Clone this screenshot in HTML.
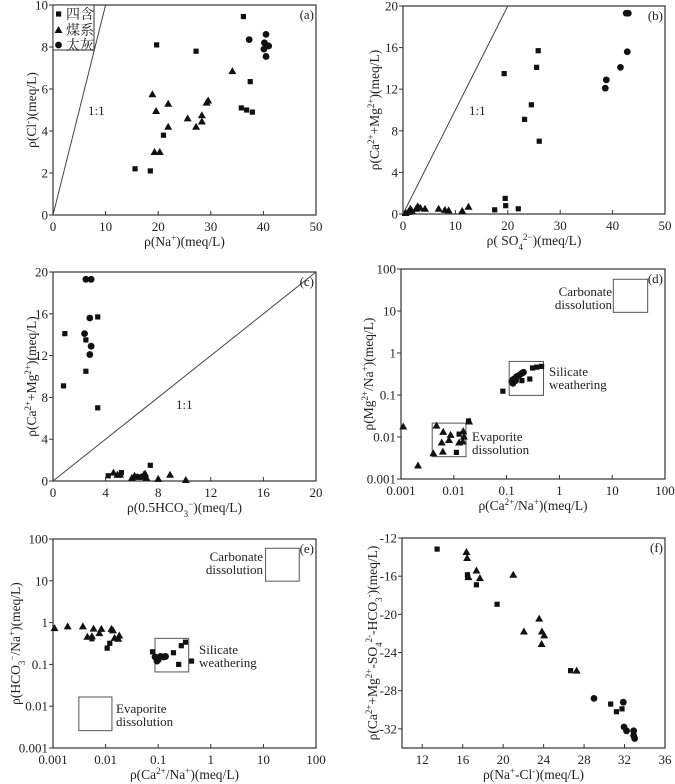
<!DOCTYPE html>
<html><head><meta charset="utf-8">
<style>
html,body{margin:0;padding:0;background:#fff;}
svg{display:block;font-family:"Liberation Serif","Noto Serif CJK SC",serif;}
</style></head>
<body>
<svg id="chart" width="675" height="784" viewBox="0 0 675 784" xmlns="http://www.w3.org/2000/svg"></svg>
<script>
// ---------- Panel (a): Cl vs Na ----------
const aSqX=[15.6,18.5,19.7,21,27.2,36.2,37.5,35.8,36.8,37.9];
const aSqY=[2.2,2.1,8.1,3.8,7.8,9.45,6.35,5.1,5.0,4.9];
const aTrX=[18.9,19.6,21.9,19.3,20.3,21.9,25.6,27.2,28.3,28.3,29.2,29.5,34.1];
const aTrY=[5.75,4.95,5.3,3.0,3.0,4.2,4.6,4.2,4.75,4.45,5.35,5.45,6.85];
const aCiX=[37.3,40.5,40.2,40.1,41,40.5];
const aCiY=[8.35,8.6,8.2,7.9,8.05,7.55];
const aXTicks=[0,10,20,30,40,50];
const aYTicks=[0,2,4,6,8,10];
// ---------- Panel (b): Ca+Mg vs SO4 ----------
const bSqX=[19.3,25.5,25.8,24.5,23.2,26,19.5,19.6,22,17.5];
const bSqY=[13.5,14.1,15.7,10.5,9.1,7.0,1.5,0.8,0.5,0.4];
const bTrX=[0.5,1,1.4,1.7,2.5,2.8,3.3,4.2,6.8,8,8.7,11.3,12.5];
const bTrY=[0.1,0.2,0.5,0.3,0.5,0.75,0.6,0.5,0.5,0.4,0.35,0.3,0.7];
const bCiX=[42.6,43,42.8,41.5,38.8,38.6];
const bCiY=[19.3,19.3,15.6,14.1,12.9,12.1];
const bXTicks=[0,10,20,30,40,50];
const bYTicks=[0,4,8,12,16,20];
// ---------- Panel (c): Ca+Mg vs 0.5HCO3 ----------
const cSqX=[0.9,0.8,2.5,2.5,3.4,3.4,4.2,5.2,7.4,6.5];
const cSqY=[14.1,9.1,13.5,10.5,15.7,7.0,0.5,0.8,1.5,0.4];
const cTrX=[4.6,4.9,5.1,6.0,6.2,6.4,6.7,6.9,7.0,7.1,8.0,8.9,10.1];
const cTrY=[0.8,0.6,0.6,0.3,0.5,0.4,0.4,0.6,0.7,0.3,0.2,0.6,0.1];
const cCiX=[2.5,2.9,2.8,2.4,2.9,2.8];
const cCiY=[19.3,19.3,15.6,14.1,12.9,12.1];
const cXTicks=[0,4,8,12,16,20];
const cYTicks=[0,4,8,12,16,20];
// ---------- Panel (d): Mg/Na vs Ca/Na (log) ----------
const dSqX=[0.0126,0.0112,0.019,0.085,0.13,0.195,0.275,0.31,0.37,0.46];
const dSqY=[0.0117,0.0043,0.024,0.123,0.23,0.22,0.24,0.44,0.46,0.48];
const dTrX=[0.0011,0.0021,0.0041,0.0047,0.0063,0.0062,0.0059,0.0081,0.0087,0.0126,0.0151,0.0148,0.0155,0.0195];
const dTrY=[0.0178,0.0021,0.0041,0.0186,0.0132,0.0045,0.0074,0.0085,0.0112,0.0074,0.0138,0.0078,0.0102,0.0234];
const dCiX=[0.126,0.138,0.155,0.178,0.195,0.209,0.132,0.148];
const dCiY=[0.209,0.24,0.275,0.302,0.331,0.347,0.19,0.22];
const dTicks=[0.001,0.01,0.1,1,10,100];
// ---------- Panel (e): HCO3/Na vs Ca/Na (log) ----------
const eSqX=[0.0055,0.0107,0.012,0.078,0.275,0.33,0.245,0.43,0.195];
const eSqY=[0.41,0.245,0.32,0.2,0.28,0.34,0.1,0.12,0.19];
const eTrX=[0.00107,0.0019,0.0037,0.0045,0.0059,0.0055,0.0076,0.0083,0.0129,0.0138,0.0148,0.0182,0.0174];
const eTrY=[0.74,0.81,0.81,0.46,0.72,0.47,0.56,0.71,0.71,0.65,0.43,0.49,0.41];
const eCiX=[0.087,0.1,0.11,0.126,0.138,0.095];
const eCiY=[0.151,0.129,0.155,0.151,0.155,0.12];
const eTicks=[0.001,0.01,0.1,1,10,100];
// ---------- Panel (f): Ca+Mg-SO4-HCO3 vs Na-Cl ----------
const fSqX=[13.47,16.47,16.5,17.36,19.4,26.67,30.63,31.2,31.75];
const fSqY=[-13.16,-15.85,-16.1,-16.9,-18.94,-25.9,-29.4,-30.2,-29.9];
const fTrX=[16.37,16.44,16.57,17.36,17.7,21,22.05,23.56,23.83,24.06,23.8,27.26];
const fTrY=[-13.47,-14.1,-16.1,-15.4,-16.2,-15.85,-21.8,-20.45,-21.8,-22.2,-23.1,-25.9];
const fCiX=[28.98,31.88,31.95,32.2,32.9,32.9,33.0];
const fCiY=[-28.8,-29.2,-31.8,-32.2,-32.2,-32.7,-33.0];
const fXTicks=[12,16,20,24,28,32,36];
const fYTicks=[-32,-28,-24,-20,-16,-12];

const NS="http://www.w3.org/2000/svg";
const svg=document.getElementById('chart');
function el(tag,attrs,parent){const e=document.createElementNS(NS,tag);for(const k in attrs)e.setAttribute(k,attrs[k]);(parent||svg).appendChild(e);return e;}

function makePanel(p){
  const g=el('g',{});
  
  
  const lin=(v,a,b,p0,p1)=>p0+(v-a)/(b-a)*(p1-p0);
  const sx=p.log?(v=>lin(Math.log10(v),Math.log10(p.xmin),Math.log10(p.xmax),p.L,p.R)):(v=>lin(v,p.xmin,p.xmax,p.L,p.R));
  const sy=p.log?(v=>lin(Math.log10(v),Math.log10(p.ymin),Math.log10(p.ymax),p.B,p.T)):(v=>lin(v,p.ymin,p.ymax,p.B,p.T));
  const frame=el('rect',{x:p.L,y:p.T,width:p.R-p.L,height:p.B-p.T,fill:'none',stroke:'#333','stroke-width':1.2},g);
  
  
  p.xt.forEach(v=>{const x=sx(v);
    el('line',{x1:x,y1:p.B,x2:x,y2:p.B-4,stroke:'#333'},g);
    const t=el('text',{x:x,y:p.B+16,'text-anchor':'middle','font-size':13,fill:'#222'},g);t.textContent=v;
    
    });
  p.yt.forEach(v=>{const y=sy(v);
    el('line',{x1:p.L,y1:y,x2:p.L-4,y2:y,stroke:'#333'},g);
    const t=el('text',{x:p.L-5,y:y+4.5,'text-anchor':'end','font-size':13,fill:'#222'},g);t.textContent=v;
    
    });
  if(p.diag){const x2=sx(p.diag),y2=sy(p.diag);
    const ln=el('line',{x1:sx(0),y1:sy(0),x2:x2,y2:y2,stroke:'#444','stroke-width':1},g);
    
    
    const t=el('text',{x:p.diagLab[0],y:p.diagLab[1],'font-size':13,fill:'#222'},g);t.textContent='1:1';
    
    }
  (p.boxes||[]).forEach(b=>{
    const r=el('rect',{x:sx(b[0]),y:sy(b[3]),width:sx(b[1])-sx(b[0]),height:sy(b[2])-sy(b[3]),fill:'none',stroke:'#555','stroke-width':1},g);
    
    
    const t1=el('text',{x:b[5],y:b[6],'text-anchor':b[7],'font-size':13,fill:'#222'},g);t1.textContent=b[8];
    
    
    const t2=el('text',{x:b[5],y:b[6]+13,'text-anchor':b[7],'font-size':13,fill:'#222'},g);t2.textContent=b[9];
    
    
  });
  p.sq[0].forEach((v,i)=>{const m=el('rect',{x:sx(v)-2.6,y:sy(p.sq[1][i])-2.6,width:5.2,height:5.2,fill:'#111'},g);
    
    });
  p.tr[0].forEach((v,i)=>{const x=sx(v),y=sy(p.tr[1][i]);
    const m=el('polygon',{points:`${x},${y-4} ${x-4},${y+3} ${x+4},${y+3}`,fill:'#111'},g);
    
    });
  p.ci[0].forEach((v,i)=>{const m=el('circle',{cx:sx(v),cy:sy(p.ci[1][i]),r:3.4,fill:'#111'},g);
    
    });
  const pl=el('text',{x:p.R-2,y:p.T+14,'text-anchor':'end','font-size':13,fill:'#222'},g);pl.textContent='('+p.id+')';
  
  
  const xl=el('text',{x:(p.L+p.R)/2,y:p.B+31,'text-anchor':'middle','font-size':13.5,fill:'#222'},g);xl.innerHTML=p.xlab;
  
  
  const cy=(p.T+p.B)/2;
  const yl=el('text',{x:p.ylx,y:cy,'text-anchor':'middle','font-size':13.5,fill:'#222',transform:`rotate(-90 ${p.ylx} ${cy})`},g);yl.innerHTML=p.ylab;
  
  
  return g;
}
const sup=s=>`<tspan baseline-shift="super" font-size="9">${s}</tspan>`;
const sub=s=>`<tspan baseline-shift="sub" font-size="9">${s}</tspan>`;
const caMg=`ρ(Ca${sup('2+')}+Mg${sup('2+')})(meq/L)`;

makePanel({id:'a',L:53,R:316,T:5,B:215,xmin:0,xmax:50,ymin:0,ymax:10,xt:aXTicks,yt:aYTicks,
  sq:[aSqX,aSqY],tr:[aTrX,aTrY],ci:[aCiX,aCiY],diag:10,diagLab:[88,115],
  xlab:`ρ(Na${sup('+')})(meq/L)`,ylab:`ρ(Cl${sup('-')})(meq/L)`,ylx:36});
makePanel({id:'b',L:403,R:665,T:6,B:214,xmin:0,xmax:50,ymin:0,ymax:20,xt:bXTicks,yt:bYTicks,
  sq:[bSqX,bSqY],tr:[bTrX,bTrY],ci:[bCiX,bCiY],diag:20,diagLab:[469,115],
  xlab:`ρ( SO${sub('4')}${sup('2−')})(meq/L)`,ylab:caMg,ylx:379});
makePanel({id:'c',L:53,R:316,T:272,B:481,xmin:0,xmax:20,ymin:0,ymax:20,xt:cXTicks,yt:cYTicks,
  sq:[cSqX,cSqY],tr:[cTrX,cTrY],ci:[cCiX,cCiY],diag:20,diagLab:[176,409],
  xlab:`ρ(0.5HCO${sub('3')}${sup('−')})(meq/L)`,ylab:caMg,ylx:36});
makePanel({id:'d',log:true,L:401,R:665,T:269,B:479,xmin:0.001,xmax:100,ymin:0.001,ymax:100,xt:dTicks,yt:dTicks,
  sq:[dSqX,dSqY],tr:[dTrX,dTrY],ci:[dCiX,dCiY],
  boxes:[[10.5,47,9.3,57,'carbonate-dissolution',612,296,'end','Carbonate','dissolution'],
         [0.112,0.5,0.098,0.63,'silicate-weathering',549,376,'start','Silicate','weathering'],
         [0.0039,0.017,0.0034,0.0214,'evaporite-dissolution',472,441,'start','Evaporite','dissolution']],
  xlab:`ρ(Ca${sup('2+')}/Na${sup('+')})(meq/L)`,ylab:`ρ(Mg${sup('2+')}/Na${sup('+')})(meq/L)`,ylx:373});
makePanel({id:'e',log:true,L:53,R:316,T:539,B:748,xmin:0.001,xmax:100,ymin:0.001,ymax:100,xt:eTicks,yt:eTicks,
  sq:[eSqX,eSqY],tr:[eTrX,eTrY],ci:[eCiX,eCiY],
  boxes:[[11,48,9.8,60,'carbonate-dissolution',263,561,'end','Carbonate','dissolution'],
         [0.087,0.38,0.066,0.42,'silicate-weathering',199,654,'start','Silicate','weathering'],
         [0.0031,0.0132,0.0026,0.0166,'evaporite-dissolution',116,713,'start','Evaporite','dissolution']],
  xlab:`ρ(Ca${sup('2+')}/Na${sup('+')})(meq/L)`,ylab:`ρ(HCO${sub('3')}${sup('−')}/Na${sup('+')})(meq/L)`,ylx:20});
makePanel({id:'f',L:402,R:665,T:538,B:748,xmin:10,xmax:36,ymin:-34,ymax:-12,xt:fXTicks,yt:fYTicks,
  sq:[fSqX,fSqY],tr:[fTrX,fTrY],ci:[fCiX,fCiY],
  xlab:`ρ(Na${sup('+')}-Cl${sup('-')})(meq/L)`,ylab:`ρ(Ca${sup('2+')}+Mg${sup('2+')}-SO${sub('4')}${sup('2-')}-HCO${sub('3')}${sup('-')})(meq/L)`,ylx:377});

// legend in panel (a)
const lg=el('g',{});


el('rect',{x:53,y:5,width:41,height:45,fill:'#fff',stroke:'#333','stroke-width':1},lg);
const legItems=[['四含','sq',14],['煤系','tr',30],['太灰','ci',45]];
legItems.forEach(it=>{
  if(it[1]==='sq')el('rect',{x:56,y:it[2]-2.6,width:5.2,height:5.2,fill:'#111'},lg);
  if(it[1]==='tr')el('polygon',{points:`58.5,${it[2]-4} 54.5,${it[2]+3} 62.5,${it[2]+3}`,fill:'#111'},lg);
  if(it[1]==='ci')el('circle',{cx:58.5,cy:it[2],r:3.4,fill:'#111'},lg);
  const t=el('text',{x:66,y:it[2]+5,'font-size':14,fill:'#222','font-family':'"Noto Serif CJK SC","Noto Sans CJK SC",serif'},lg);t.textContent=it[0];
  
  
});
</script>
</body></html>
